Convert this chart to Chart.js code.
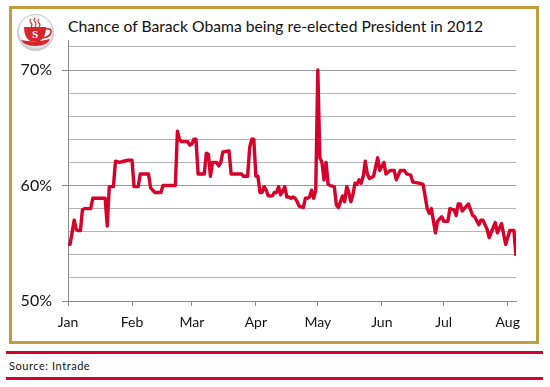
<!DOCTYPE html>
<html>
<head>
<meta charset="utf-8">
<script src="https://cdn.jsdelivr.net/npm/chart.js@4/dist/chart.umd.min.js"></script>
<style>
  html, body { margin: 0; padding: 0; background: #fff; }
  #page { position: relative; width: 550px; height: 387px; overflow: hidden; font-family: Lato, sans-serif; color: #111; }
  #frame { position: absolute; left: 9px; top: 6px; width: 524px; height: 332px; border: 3px solid #bf9e3e; }
  .rule { position: absolute; left: 6px; width: 537px; height: 3px; background: #d6002a; }
  #title { position: absolute; left: 68px; top: 15px; font-size: 15.7px; line-height: 22px; white-space: nowrap; }
  #source { position: absolute; left: 9px; top: 359px; font-size: 11px; line-height: 14px; letter-spacing: 0.55px; white-space: nowrap; }
  #logo { position: absolute; left: 17px; top: 14px; }
  canvas { position: absolute; left: 0; top: 0; }
</style>
</head>
<body>
<div id="page">
  <div id="frame"></div>
  <div class="rule" style="top:351px"></div>
  <div class="rule" style="top:377px"></div>
  <svg id="logo" width="38" height="38" viewBox="0 0 38 38">
    <defs>
      <radialGradient id="rim" cx="50%" cy="45%" r="55%">
        <stop offset="75%" stop-color="#ffffff"/>
        <stop offset="100%" stop-color="#bcbcbc"/>
      </radialGradient>
    </defs>
    <circle cx="18.5" cy="18.5" r="18" fill="url(#rim)" stroke="#c8c8c8"/>
    <path d="M14 5 q-2 2 0 4 t0 4 M18 4 q-2 2 0 4 t0 5 M22 5 q-2 2 0 4 t0 4" fill="none" stroke="#d7262b" stroke-width="1.1"/>
    <path d="M7 13 h22 q0 10 -6 14 h-10 q-6 -4 -6 -14z" fill="#d7262b"/>
    <path d="M28 15 q7 -1 6 3 q-1 5 -8 6" fill="none" stroke="#d7262b" stroke-width="1.6"/>
    <path d="M4 26 q14 3 29 -1 q-3 7 -14 7 q-12 0 -15 -6z" fill="#d7262b"/>
    <text x="18" y="24" text-anchor="middle" font-family="Liberation Serif" font-weight="bold" font-size="11" fill="#fff">S</text>
  </svg>
  <div id="title">Chance of Barack Obama being re-elected President in 2012</div>
  <div id="source">Source: Intrade</div>
  <canvas id="oddsChart" width="550" height="387"></canvas>
</div>
<script>
// Days since 1 Jan
const days = [
  0,1,3,4,5,6,7,8,11,12,17,18,19,20,22,23,25,27,29,31,32,34,35,39,40,41,42,45,46,52,53,54,55,58,59,60,61,62,63,66,
  67,68,69,70,72,73,74,75,78,79,80,84,85,87,88,89,90,91,92,93,94,95,96,97,99,100,101,102,103,104,105,106,107,108,109,110,
  111,112,114,115,116,117,118,119,120,121,122,123,124,125,126,127,129,130,131,132,133,134,135,136,137,138,139,140,141,142,143,144,145,146,147,148,149,150,151,153,154,156,
  158,159,161,163,164,166,167,170,172,174,175,176,178,179,181,182,184,185,187,188,189,190,191,194,196,197,199,200,201,203,204,207,208,210,212,214,216,217
];
const chance = [
  54.9,54.9,57,56.2,56.1,56.1,57.9,58,58,58.9,58.9,58.9,56.5,59.9,59.9,62.1,62,62.1,62.2,62.2,59.9,59.9,61,61,59.8,59.6,59.4,59.4,60,60,64.7,64,63.8,63.8,63.5,63.6,64,64,61,61,
  62.8,62.7,60.8,62,62,61.7,62,62.9,63,61,61,61,60.8,60.8,63.3,64,64,60.8,60.8,59.4,59.4,59.9,59.6,59.1,59.1,59.4,59.4,59.9,59.2,59.5,59.9,59,59,58.9,59,58.9,
  58.6,58.2,58.1,58.9,58.9,59,59.6,58.9,59.6,70,62.4,62,60.5,62,60.1,60,59.9,58.3,58.1,58.6,59.1,58.6,59.9,59.4,58.6,59.2,60.2,60.1,60.5,60.2,60.8,62.1,61,60.6,60.7,60.8,61.6,62.4,61.3,62,61,61.3,
  61.3,60.5,61.3,61.3,61,60.9,60.3,60.2,60.1,58,57.6,58,55.9,56.9,57.3,56.9,56.9,58,57.9,57.4,58.4,58.4,57.8,58.4,57.4,57.3,56.6,57,57,56.2,55.5,56.8,55.9,56.7,54.9,56.1,56.1,53.9
];
const monthStarts = [0, 31, 60, 91, 121, 152, 182, 213];
const monthLabels = ["Jan", "Feb", "Mar", "Apr", "May", "Jun", "Jul", "Aug"];
const yGridValues = [50, 52, 54, 56, 58, 60, 62, 64, 66, 68, 70, 72];
const yLabelled = [50, 60, 70];

const ctx = document.getElementById("oddsChart").getContext("2d");
new Chart(ctx, {
  type: "line",
  data: {
    datasets: [
      {
        data: days.map((d, i) => ({ x: d, y: chance[i] })),
        borderColor: "#d6002a",
        borderWidth: 3.4,
        pointRadius: 0,
        tension: 0,
        borderJoinStyle: "round",
        fill: false,
      },
    ],
  },
  options: {
    responsive: false,
    animation: false,
    layout: { padding: { left: 0, top: 40, right: 34, bottom: 0 } },
    plugins: { legend: { display: false }, tooltip: { enabled: false } },
    scales: {
      x: {
        type: "linear",
        min: 0,
        max: 217,
        afterBuildTicks: (axis) => {
          axis.ticks = monthStarts.map((v) => ({ value: v }));
        },
        afterFit: (axis) => {
          axis.height = 86;
        },
        border: { color: "#8a8a8a", width: 1 },
        grid: { drawOnChartArea: false, color: "#8a8a8a", tickLength: 5 },
        ticks: {
          autoSkip: false,
          maxRotation: 0,
          padding: 8,
          color: "#111",
          font: { family: "Lato", size: 14 },
          callback: (v) => monthLabels[monthStarts.indexOf(v)],
        },
      },
      y: {
        min: 50,
        max: 72.6,
        afterBuildTicks: (axis) => {
          axis.ticks = yGridValues.map((v) => ({ value: v }));
        },
        afterFit: (axis) => {
          axis.width = 68;
        },
        border: { color: "#8a8a8a", width: 1 },
        grid: {
          color: (c) => (yLabelled.includes(c.tick.value) ? "#9a9a9a" : "#b4b4b4"),
          tickColor: (c) => (yLabelled.includes(c.tick.value) ? "#8a8a8a" : "transparent"),
          tickLength: 6,
        },
        ticks: {
          autoSkip: false,
          padding: 10,
          color: "#111",
          font: { family: "Lato", size: 16 },
          callback: (v) => (yLabelled.includes(v) ? v + "%" : ""),
        },
      },
    },
  },
});
</script>
</body>
</html>
